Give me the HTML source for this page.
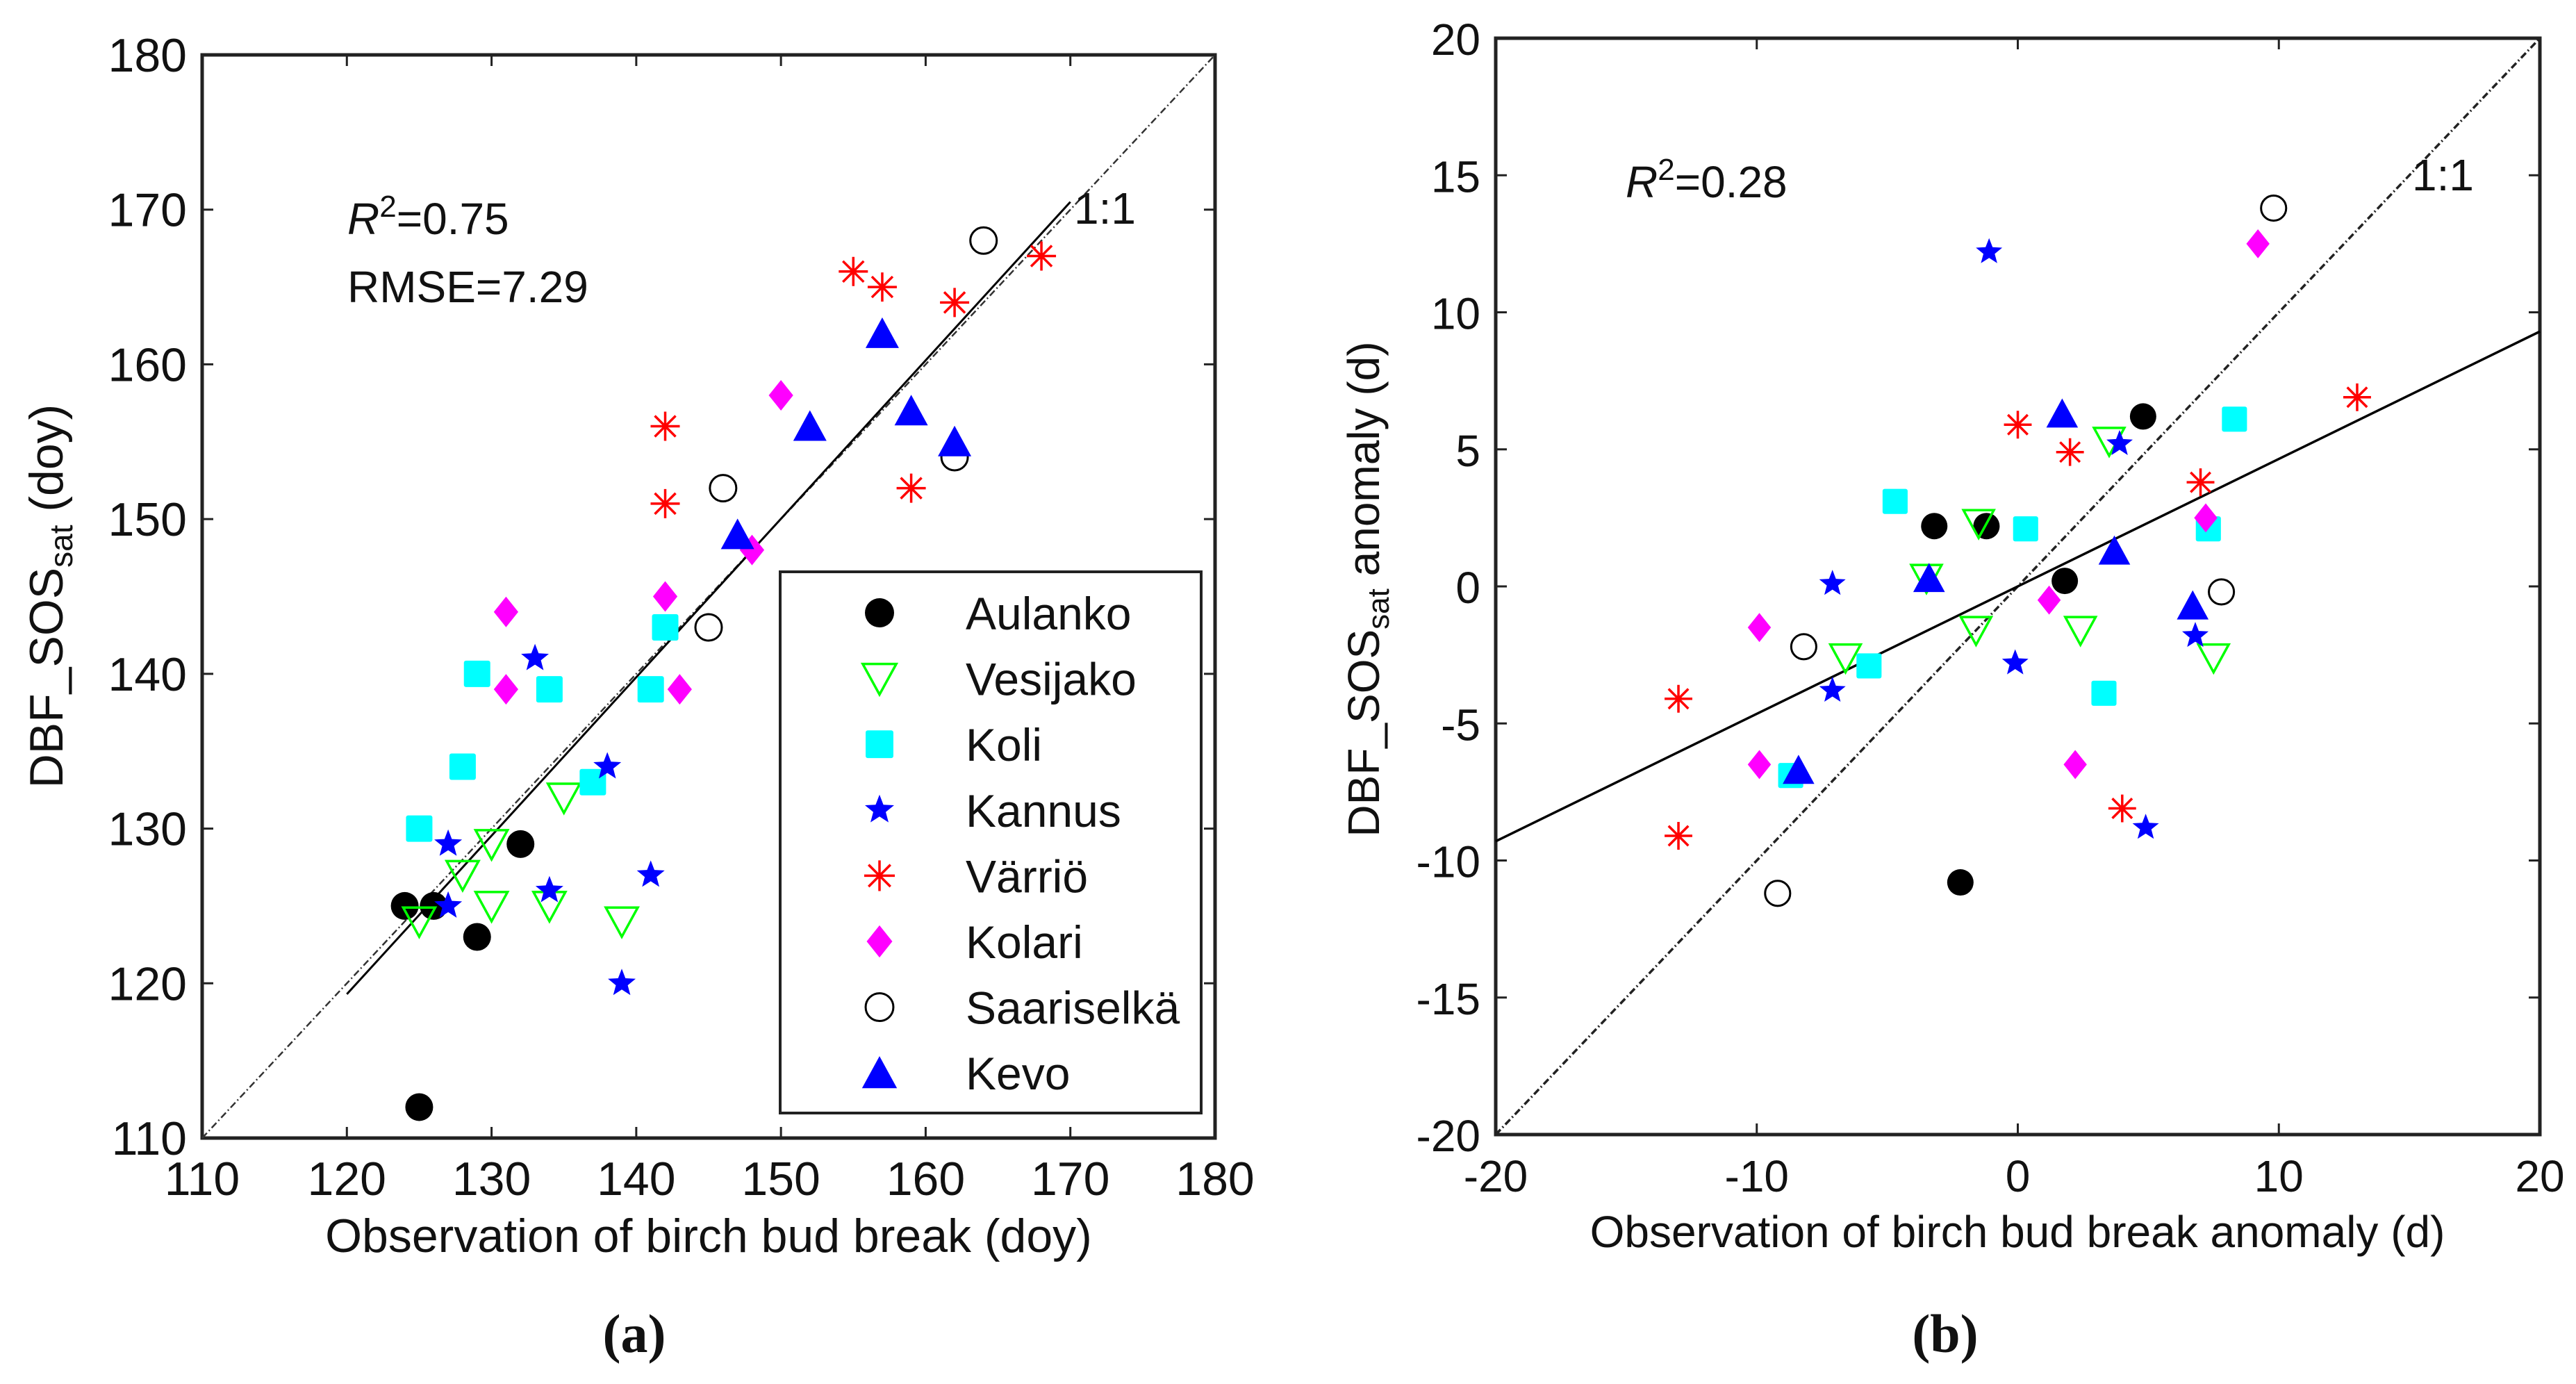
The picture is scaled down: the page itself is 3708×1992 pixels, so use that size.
<!DOCTYPE html>
<html><head><meta charset="utf-8"><style>
html,body{margin:0;padding:0;background:#fff;}
svg{display:block;font-family:"Liberation Sans",Arial,sans-serif;}
</style></head><body>
<svg id="fig" width="3708" height="1992" viewBox="0 0 3708 1992" xmlns="http://www.w3.org/2000/svg"></svg>
<script>
// ---- Panel (a) data ----
const sitesA = ["Aulanko","Vesijako","Koli","Kannus","Värriö","Kolari","Saariselkä","Kevo"];
const aulankoA_x=[124,126,129,132,125], aulankoA_y=[125,125,123,129,112];
const vesijakoA_x=[125,128,130,130,134,135,139], vesijakoA_y=[124,127,129,125,125,132,124];
const koliA_x=[125,128,129,134,137,141,142], koliA_y=[130,134,140,139,133,139,143];
const kannusA_x=[127,127,133,134,138,139,141], kannusA_y=[129,125,141,126,134,120,127];
const varrioA_x=[142,142,155,157,159,162,168], varrioA_y=[156,151,166,165,152,164,167];
const kolariA_x=[131,131,142,143,148,150], kolariA_y=[144,139,145,139,148,158];
const saariA_x=[145,146,162,164], saariA_y=[143,152,154,168];
const kevoA_x=[147,152,157,159,162], kevoA_y=[149,156,162,157,155];
const fitA_x=[120,170], fitA_y=[119.3,170.5];
const ticksA=[110,120,130,140,150,160,170,180];
// ---- Panel (b) data ----
const aulankoB_x=[-3.2,-1.2,1.8,4.8,-2.2], aulankoB_y=[2.2,2.2,0.2,6.2,-10.8];
const vesijakoB_x=[-1.5,3.5,-3.5,-6.6,-1.6,2.4,7.5], vesijakoB_y=[2.3,5.3,0.3,-2.6,-1.6,-1.6,-2.6];
const koliB_x=[-4.7,0.3,8.3,7.3,-5.7,3.3,-8.7], koliB_y=[3.1,2.1,6.1,2.1,-2.9,-3.9,-6.9];
const kannusB_x=[-1.1,3.9,-7.1,-7.1,-0.1,6.8,4.9], kannusB_y=[12.2,5.2,0.1,-3.8,-2.8,-1.8,-8.8];
const varrioB_x=[0,2,7,13,-13,-13,4], varrioB_y=[5.9,4.9,3.8,6.9,-4.1,-9.1,-8.1];
const kolariB_x=[9.2,7.2,1.2,-9.9,-9.9,2.2], kolariB_y=[12.5,2.5,-0.5,-1.5,-6.5,-6.5];
const saariB_x=[9.8,7.8,-8.2,-9.2], saariB_y=[13.8,-0.2,-2.2,-11.2];
const kevoB_x=[1.7,3.7,-3.4,6.7,-8.4], kevoB_y=[6.3,1.3,0.3,-0.7,-6.7];
const fitB_x=[-20,20], fitB_y=[-9.3,9.3];
const ticksBx=[-20,-10,0,10,20];
const ticksBy=[-20,-15,-10,-5,0,5,10,15,20];

const NS="http://www.w3.org/2000/svg";
const svg=document.getElementById('fig');
function mk(tag,attrs,parent){const e=document.createElementNS(NS,tag);for(const k in attrs)e.setAttribute(k,attrs[k]);(parent||svg).appendChild(e);return e;}
function txt(s,attrs,parent){const e=mk('text',attrs,parent);e.textContent=s;return e;}

function marker(kind,cx,cy,g,sz){
  const s=sz||1;let e;
  if(kind==='circle'){e=mk('circle',{cx:cx,cy:cy,r:20*s,fill:'#000'},g);}
  else if(kind==='ocircle'){e=mk('circle',{cx:cx,cy:cy,r:19*s,fill:'none',stroke:'#000','stroke-width':3},g);}
  else if(kind==='vtri'){const w=23*s,h=20*s;e=mk('polygon',{points:`${cx-w},${cy-h} ${cx+w},${cy-h} ${cx},${cy+h+2}`,fill:'none',stroke:'#00ff00','stroke-width':3.5},g);}
  else if(kind==='utri'){const w=24*s,h=21*s;e=mk('polygon',{points:`${cx-w},${cy+h} ${cx+w},${cy+h} ${cx},${cy-h-2}`,fill:'#0000ff'},g);}
  else if(kind==='square'){const a=19*s;e=mk('rect',{x:cx-a,y:cy-a,width:2*a,height:2*a,rx:3,fill:'#00ffff'},g);}
  else if(kind==='diamond'){const a=22*s;e=mk('polygon',{points:`${cx},${cy-a} ${cx+a*0.8},${cy} ${cx},${cy+a} ${cx-a*0.8},${cy}`,fill:'#ff00ff'},g);}
  else if(kind==='star'){let p=[];const R=21*s,r=9*s;for(let i=0;i<10;i++){const ang=-Math.PI/2+i*Math.PI/5;const rr=i%2?r:R;p.push((cx+rr*Math.cos(ang)).toFixed(1)+','+(cy+rr*Math.sin(ang)).toFixed(1));}e=mk('polygon',{points:p.join(' '),fill:'#0000ff'},g);}
  else if(kind==='ast'){const a=21*s,d=15*s;e=mk('path',{d:`M${cx-a},${cy}H${cx+a}M${cx},${cy-a}V${cy+a}M${cx-d},${cy-d}L${cx+d},${cy+d}M${cx-d},${cy+d}L${cx+d},${cy-d}`,stroke:'#ff0000','stroke-width':3.5,fill:'none'},g);}
  return e;
}
const kinds=['circle','vtri','square','star','ast','diamond','ocircle','utri'];

function axes(L,R,T,B,xmin,xmax,xticks,yticks,name,fs){
  const sx=v=>L+(v-xmin)/(xmax-xmin)*(R-L);
  const sy=v=>B-(v-xmin)/(xmax-xmin)*(B-T);
  const g=mk('g',{});
  
  
  mk('rect',{x:L,y:T,width:R-L,height:B-T,fill:'none',stroke:'#222','stroke-width':5},g);
  xticks.forEach(t=>{
    const x=sx(t);
    mk('path',{d:`M${x},${B}V${B-16}M${x},${T}V${T+16}`,stroke:'#222','stroke-width':3},g);
    const xl=txt(String(t),{x:x,y:B+82,'font-size':fs,'text-anchor':'middle',fill:'#111'},g);
    
    
  });
  yticks.forEach(t=>{
    const y=sy(t);
    mk('path',{d:`M${L},${y}H${L+16}M${R},${y}H${R-16}`,stroke:'#222','stroke-width':3},g);
    const yl=txt(String(t),{x:L-22,y:y+24,'font-size':fs,'text-anchor':'end',fill:'#111'},g);
    
    
  });
  return {sx,sy,g};
}

// ---------- Panel A ----------
const A=axes(291,1749,79,1638,110,180,ticksA,ticksA,'panel-a',68);
const l11a=mk('line',{x1:A.sx(110),y1:A.sy(110),x2:A.sx(180),y2:A.sy(180),stroke:'#333','stroke-width':2.5,'stroke-dasharray':'10,4,2,4'});


const fa=mk('line',{x1:A.sx(fitA_x[0]),y1:A.sy(fitA_y[0]),x2:A.sx(fitA_x[1]),y2:A.sy(fitA_y[1]),stroke:'#000','stroke-width':3});


const seriesA=[[aulankoA_x,aulankoA_y],[vesijakoA_x,vesijakoA_y],[koliA_x,koliA_y],[kannusA_x,kannusA_y],[varrioA_x,varrioA_y],[kolariA_x,kolariA_y],[saariA_x,saariA_y],[kevoA_x,kevoA_y]];
seriesA.forEach((s,i)=>{
  const g=mk('g',{});
  
  
  s[0].forEach((x,j)=>{const m=marker(kinds[i],A.sx(x),A.sy(s[1][j]),g);
    
    });
});
const lg=mk('g',{});


mk('rect',{x:1123,y:823,width:606,height:779,fill:'#fff',stroke:'#222','stroke-width':4},lg);
sitesA.forEach((s,i)=>{
  const y=882+i*94.6;
  const m=marker(kinds[i],1266,y,lg,1.05);
  
  
  const t=txt(s,{x:1390,y:y+24,'font-size':66,fill:'#111'},lg);
  
  
});
let t;
t=txt('',{x:500,y:337,'font-size':64,fill:'#111'});
t.innerHTML='<tspan font-style="italic">R</tspan><tspan dy="-25" font-size="44">2</tspan><tspan dy="25">=0.75</tspan>';


t=txt('RMSE=7.29',{x:500,y:435,'font-size':64,fill:'#111'});


t=txt('1:1',{x:1546,y:322,'font-size':64,fill:'#111'});


t=txt('Observation of birch bud break (doy)',{x:1020,y:1802,'font-size':68,'text-anchor':'middle',fill:'#111'});


t=txt('',{x:0,y:0,'font-size':68,'text-anchor':'middle',fill:'#111',transform:'translate(90,858) rotate(-90)'});
t.innerHTML='DBF_SOS<tspan dy="14" font-size="46">sat</tspan><tspan dy="-14"> (doy)</tspan>';


t=txt('(a)',{x:913,y:1946,'font-size':78,'font-weight':'bold','font-family':'Liberation Serif, serif','text-anchor':'middle',fill:'#111'});



// ---------- Panel B ----------
const B=axes(2153,3656,55,1633,-20,20,ticksBx,ticksBy,'panel-b',64);
const l11b=mk('line',{x1:B.sx(-20),y1:B.sy(-20),x2:B.sx(20),y2:B.sy(20),stroke:'#222','stroke-width':3.5,'stroke-dasharray':'10,4,2,4'});


const fb=mk('line',{x1:B.sx(fitB_x[0]),y1:B.sy(fitB_y[0]),x2:B.sx(fitB_x[1]),y2:B.sy(fitB_y[1]),stroke:'#000','stroke-width':3.5});


const seriesB=[[aulankoB_x,aulankoB_y],[vesijakoB_x,vesijakoB_y],[koliB_x,koliB_y],[kannusB_x,kannusB_y],[varrioB_x,varrioB_y],[kolariB_x,kolariB_y],[saariB_x,saariB_y],[kevoB_x,kevoB_y]];
seriesB.forEach((s,i)=>{
  const g=mk('g',{});
  
  
  s[0].forEach((x,j)=>{const m=marker(kinds[i],B.sx(x),B.sy(s[1][j]),g,0.95);
    
    });
});
t=txt('',{x:2340,y:284,'font-size':64,fill:'#111'});
t.innerHTML='<tspan font-style="italic">R</tspan><tspan dy="-25" font-size="44">2</tspan><tspan dy="25">=0.28</tspan>';


t=txt('1:1',{x:3472,y:274,'font-size':64,fill:'#111'});


t=txt('Observation of birch bud break anomaly (d)',{x:2904,y:1795,'font-size':64,'text-anchor':'middle',fill:'#111'});


t=txt('',{x:0,y:0,'font-size':64,'text-anchor':'middle',fill:'#111',transform:'translate(1985,848) rotate(-90)'});
t.innerHTML='DBF_SOS<tspan dy="14" font-size="44">sat</tspan><tspan dy="-14"> anomaly (d)</tspan>';


t=txt('(b)',{x:2800,y:1946,'font-size':78,'font-weight':'bold','font-family':'Liberation Serif, serif','text-anchor':'middle',fill:'#111'});


</script>
</body></html>
